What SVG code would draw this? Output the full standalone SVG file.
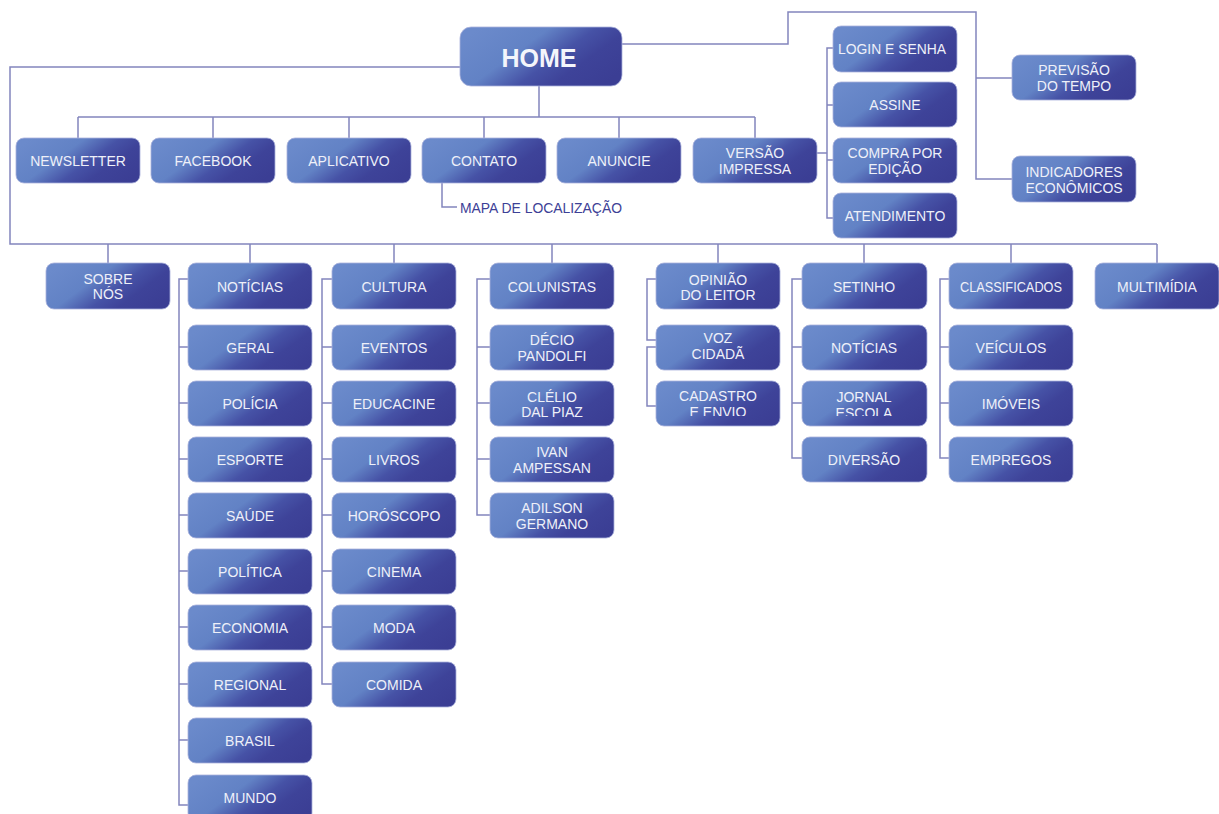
<svg xmlns="http://www.w3.org/2000/svg" width="1219" height="814" viewBox="0 0 1219 814">
<style>
.box{fill:url(#g);stroke:#a9b1dc;stroke-width:0.8}
.t{font-family:"Liberation Sans",Arial,sans-serif;font-size:14px;fill:#eef0f9;text-anchor:middle}
.home{font-family:"Liberation Sans",Arial,sans-serif;font-size:25px;font-weight:bold;fill:#f4f5fb;text-anchor:middle}
.lbl{font-family:"Liberation Sans",Arial,sans-serif;font-size:14px;fill:#3d4196}
.c{fill:none;stroke:#8385bd;stroke-width:1.5}
</style>
<defs>
<linearGradient id="g" x1="0" y1="0.25" x2="1" y2="0.75">
<stop offset="0" stop-color="#6b8acb"/>
<stop offset="0.35" stop-color="#6282c5"/>
<stop offset="0.58" stop-color="#4652a6"/>
<stop offset="0.75" stop-color="#3e4399"/>
<stop offset="1" stop-color="#3b3e94"/>
</linearGradient>
<clipPath id="clipJ"><rect x="802" y="381" width="125" height="35"/></clipPath>
<clipPath id="clipC"><rect x="656" y="381" width="124" height="35"/></clipPath>
</defs>
<rect width="1219" height="814" fill="#ffffff"/>
<g id="connectors">
<path class="c" d="M460 67H10V244H1157"/>
<path class="c" d="M108 244V263M250 244V263M394 244V263M552 244V263M718 244V263M864 244V263M1011 244V263M1157 244V263"/>
<path class="c" d="M539 86V117M78 117H755M78 117V138M213 117V138M349 117V138M484 117V138M619 117V138M755 117V138"/>
<path class="c" d="M622 44H788V12H976V179H1012M976 78H1012"/>
<path class="c" d="M817 153H827M833 48H827V218H833M827 105H833M827 160H833"/>
<path class="c" d="M442 183V207H457"/>
<path class="c" d="M188 279H179V805H188M179 347H188M179 403H188M179 459H188M179 515H188M179 571H188M179 627H188M179 684H188M179 740H188"/>
<path class="c" d="M332 279H322V684H332M322 347H332M322 403H332M322 459H332M322 515H332M322 571H332M322 627H332"/>
<path class="c" d="M490 279H477V515H490M477 347H490M477 403H490M477 459H490"/>
<path class="c" d="M656 279H647V340H656M656 347H647V406H656"/>
<path class="c" d="M802 279H792V458H802M792 347H802M792 403H802"/>
<path class="c" d="M949 279H940V458H949M940 347H949M940 403H949"/>
</g>
<g id="home"><rect class="box" x="460" y="27" width="162" height="59" rx="11"/><text class="home" x="539" y="67">HOME</text></g>
<g id="newsletter"><rect class="box" x="16" y="138" width="124" height="45" rx="8"/><text class="t" x="78" y="166">NEWSLETTER</text></g>
<g id="facebook"><rect class="box" x="151" y="138" width="124" height="45" rx="8"/><text class="t" x="213" y="166">FACEBOOK</text></g>
<g id="aplicativo"><rect class="box" x="287" y="138" width="124" height="45" rx="8"/><text class="t" x="349" y="166">APLICATIVO</text></g>
<g id="contato"><rect class="box" x="422" y="138" width="124" height="45" rx="8"/><text class="t" x="484" y="166">CONTATO</text></g>
<g id="mapa"><text class="lbl" x="460" y="213" textLength="162" lengthAdjust="spacingAndGlyphs">MAPA DE LOCALIZAÇÃO</text></g>
<g id="anuncie"><rect class="box" x="557" y="138" width="124" height="45" rx="8"/><text class="t" x="619" y="166">ANUNCIE</text></g>
<g id="versao"><rect class="box" x="693" y="138" width="124" height="45" rx="8"/><text class="t" x="755" y="158">VERSÃO</text><text class="t" x="755" y="174">IMPRESSA</text></g>
<g id="login"><rect class="box" x="833" y="26" width="124" height="46" rx="8"/><text class="t" x="892" y="54" textLength="108" lengthAdjust="spacingAndGlyphs">LOGIN E SENHA</text></g>
<g id="assine"><rect class="box" x="833" y="82" width="124" height="45" rx="8"/><text class="t" x="895" y="110">ASSINE</text></g>
<g id="compra"><rect class="box" x="833" y="138" width="124" height="45" rx="8"/><text class="t" x="895" y="158">COMPRA POR</text><text class="t" x="895" y="174">EDIÇÃO</text></g>
<g id="atendimento"><rect class="box" x="833" y="193" width="124" height="45" rx="8"/><text class="t" x="895" y="221">ATENDIMENTO</text></g>
<g id="previsao"><rect class="box" x="1012" y="55" width="124" height="45" rx="8"/><text class="t" x="1074" y="75">PREVISÃO</text><text class="t" x="1074" y="91">DO TEMPO</text></g>
<g id="indicadores"><rect class="box" x="1012" y="156" width="124" height="46" rx="8"/><text class="t" x="1074" y="177">INDICADORES</text><text class="t" x="1074" y="193">ECONÔMICOS</text></g>
<g id="sobre"><rect class="box" x="46" y="263" width="124" height="46" rx="8"/><text class="t" x="108" y="284">SOBRE</text><text class="t" x="108" y="299">NÓS</text></g>
<g id="noticias"><rect class="box" x="188" y="263" width="124" height="46" rx="8"/><text class="t" x="250" y="292">NOTÍCIAS</text></g>
<g id="geral"><rect class="box" x="188" y="325" width="124" height="45" rx="8"/><text class="t" x="250" y="353">GERAL</text></g>
<g id="policia"><rect class="box" x="188" y="381" width="124" height="45" rx="8"/><text class="t" x="250" y="409">POLÍCIA</text></g>
<g id="esporte"><rect class="box" x="188" y="437" width="124" height="45" rx="8"/><text class="t" x="250" y="465">ESPORTE</text></g>
<g id="saude"><rect class="box" x="188" y="493" width="124" height="45" rx="8"/><text class="t" x="250" y="521">SAÚDE</text></g>
<g id="politica"><rect class="box" x="188" y="549" width="124" height="45" rx="8"/><text class="t" x="250" y="577">POLÍTICA</text></g>
<g id="economia"><rect class="box" x="188" y="605" width="124" height="45" rx="8"/><text class="t" x="250" y="633">ECONOMIA</text></g>
<g id="regional"><rect class="box" x="188" y="662" width="124" height="45" rx="8"/><text class="t" x="250" y="690">REGIONAL</text></g>
<g id="brasil"><rect class="box" x="188" y="718" width="124" height="45" rx="8"/><text class="t" x="250" y="746">BRASIL</text></g>
<g id="mundo"><rect class="box" x="188" y="775" width="124" height="46" rx="8"/><text class="t" x="250" y="803">MUNDO</text></g>
<g id="cultura"><rect class="box" x="332" y="263" width="124" height="46" rx="8"/><text class="t" x="394" y="292">CULTURA</text></g>
<g id="eventos"><rect class="box" x="332" y="325" width="124" height="45" rx="8"/><text class="t" x="394" y="353">EVENTOS</text></g>
<g id="educacine"><rect class="box" x="332" y="381" width="124" height="45" rx="8"/><text class="t" x="394" y="409">EDUCACINE</text></g>
<g id="livros"><rect class="box" x="332" y="437" width="124" height="45" rx="8"/><text class="t" x="394" y="465">LIVROS</text></g>
<g id="horoscopo"><rect class="box" x="332" y="493" width="124" height="45" rx="8"/><text class="t" x="394" y="521">HORÓSCOPO</text></g>
<g id="cinema"><rect class="box" x="332" y="549" width="124" height="45" rx="8"/><text class="t" x="394" y="577">CINEMA</text></g>
<g id="moda"><rect class="box" x="332" y="605" width="124" height="45" rx="8"/><text class="t" x="394" y="633">MODA</text></g>
<g id="comida"><rect class="box" x="332" y="662" width="124" height="45" rx="8"/><text class="t" x="394" y="690">COMIDA</text></g>
<g id="colunistas"><rect class="box" x="490" y="263" width="124" height="46" rx="8"/><text class="t" x="552" y="292">COLUNISTAS</text></g>
<g id="decio"><rect class="box" x="490" y="325" width="124" height="45" rx="8"/><text class="t" x="552" y="345">DÉCIO</text><text class="t" x="552" y="361">PANDOLFI</text></g>
<g id="clelio"><rect class="box" x="490" y="381" width="124" height="45" rx="8"/><text class="t" x="552" y="402">CLÉLIO</text><text class="t" x="552" y="417">DAL PIAZ</text></g>
<g id="ivan"><rect class="box" x="490" y="437" width="124" height="45" rx="8"/><text class="t" x="552" y="457">IVAN</text><text class="t" x="552" y="473">AMPESSAN</text></g>
<g id="adilson"><rect class="box" x="490" y="493" width="124" height="45" rx="8"/><text class="t" x="552" y="513">ADILSON</text><text class="t" x="552" y="529">GERMANO</text></g>
<g id="opiniao"><rect class="box" x="656" y="263" width="124" height="46" rx="8"/><text class="t" x="718" y="285">OPINIÃO</text><text class="t" x="718" y="300">DO LEITOR</text></g>
<g id="voz"><rect class="box" x="656" y="325" width="124" height="45" rx="8"/><text class="t" x="718" y="343">VOZ</text><text class="t" x="718" y="359">CIDADÃ</text></g>
<g id="cadastro"><rect class="box" x="656" y="381" width="124" height="45" rx="8"/><g clip-path="url(#clipC)"><text class="t" x="718" y="401">CADASTRO</text><text class="t" x="718" y="417">E ENVIO</text></g></g>
<g id="setinho"><rect class="box" x="802" y="263" width="125" height="46" rx="8"/><text class="t" x="864" y="292">SETINHO</text></g>
<g id="noticias2"><rect class="box" x="802" y="325" width="125" height="45" rx="8"/><text class="t" x="864" y="353">NOTÍCIAS</text></g>
<g id="jornal"><rect class="box" x="802" y="381" width="125" height="45" rx="8"/><g clip-path="url(#clipJ)"><text class="t" x="864" y="402">JORNAL</text><text class="t" x="864" y="418">ESCOLA</text></g></g>
<g id="diversao"><rect class="box" x="802" y="437" width="125" height="45" rx="8"/><text class="t" x="864" y="465">DIVERSÃO</text></g>
<g id="classificados"><rect class="box" x="949" y="263" width="124" height="46" rx="8"/><text class="t" x="1011" y="292" textLength="102" lengthAdjust="spacingAndGlyphs">CLASSIFICADOS</text></g>
<g id="veiculos"><rect class="box" x="949" y="325" width="124" height="45" rx="8"/><text class="t" x="1011" y="353">VEÍCULOS</text></g>
<g id="imoveis"><rect class="box" x="949" y="381" width="124" height="45" rx="8"/><text class="t" x="1011" y="409">IMÓVEIS</text></g>
<g id="empregos"><rect class="box" x="949" y="437" width="124" height="45" rx="8"/><text class="t" x="1011" y="465">EMPREGOS</text></g>
<g id="multimidia"><rect class="box" x="1095" y="263" width="124" height="46" rx="8"/><text class="t" x="1157" y="292">MULTIMÍDIA</text></g>
</svg>
